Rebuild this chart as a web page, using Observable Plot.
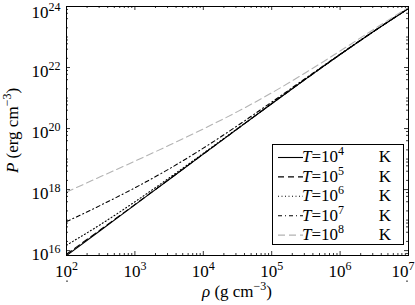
<!DOCTYPE html>
<html><head><meta charset="utf-8">
<script src="https://cdn.jsdelivr.net/npm/d3@7"></script>
<script src="https://cdn.jsdelivr.net/npm/@observablehq/plot@0.6"></script>
<style>
html,body{margin:0;padding:0;background:#fff;}
#chart svg{display:block;}
#chart svg text{font-family:'Liberation Serif','DejaVu Serif',serif !important;}
</style>
</head><body><div id="chart"></div>
<script>
// log10 of density rho (g cm^-3)
const logRho = [2, 2.5, 3, 3.5, 4, 4.5, 5, 5.5, 6, 6.5, 7];
// log10 of pressure P (erg cm^-3) for each temperature
const logP_T4 = [15.838, 16.668, 17.500, 18.332, 19.163, 19.991, 20.815, 21.629, 22.425, 23.196, 23.935];
const logP_T5 = [15.883, 16.690, 17.510, 18.336, 19.165, 19.992, 20.816, 21.629, 22.425, 23.196, 23.935];
const logP_T6 = [16.178, 16.860, 17.600, 18.381, 19.187, 20.002, 20.820, 21.632, 22.426, 23.197, 23.935];
const logP_T7 = [16.951, 17.488, 18.058, 18.677, 19.358, 20.094, 20.867, 21.655, 22.438, 23.203, 23.939];
const logP_T8 = [17.921, 18.425, 18.933, 19.451, 19.988, 20.555, 21.170, 21.837, 22.542, 23.263, 23.975];
const tempExps = ["4", "5", "6", "7", "8"];
const xTickExps = [2, 3, 4, 5, 6, 7];
const yTickExps = [16, 18, 20, 22, 24];

const W = 415, H = 305;
const mL = 66, mR = 7, mT = 6, mB = 50;
const fw = W - mL - mR, fh = H - mT - mB;
const FONT = "'Liberation Serif', 'DejaVu Serif', serif";
const FS = 17, SFS = 12, SUP = 7;

const seriesP = [logP_T4, logP_T5, logP_T6, logP_T7, logP_T8];
const styles = [
  {stroke: "#000", dash: null, w: 1.1},
  {stroke: "#000", dash: "6,4", w: 1.1},
  {stroke: "#000", dash: "1,2.5", w: 1.1},
  {stroke: "#000", dash: "4,3,1,3", w: 1.1},
  {stroke: "#b3b3b3", dash: "7,4", w: 1.1}
];

const rows = [];
seriesP.forEach((arr, i) => arr.forEach((lp, j) => rows.push({T: tempExps[i], rho: 10 ** logRho[j], P: 10 ** lp})));

const xMajor = xTickExps.map(e => 10 ** e);
const xMinor = [];
for (let e = 2; e < 7; e++) for (let k = 2; k <= 9; k++) xMinor.push(k * 10 ** e);
const yMajor = yTickExps.map(e => 10 ** e);
const yMinor = [];
for (let e = 15; e < 24; e++) {
  if (e % 2 === 1) yMinor.push(10 ** e);
  for (const k of [2, 4, 6, 8]) { const v = k * 10 ** e; if (v > 10 ** 15.84 && v < 1e24) yMinor.push(v); }
}

const marks = [];
tempExps.forEach((t, i) => {
  marks.push(Plot.line(rows.filter(r => r.T === t), {
    x: "rho", y: "P", stroke: styles[i].stroke, strokeWidth: styles[i].w,
    strokeDasharray: styles[i].dash, curve: "monotone-x", clip: true
  }));
});
// inward ticks on all four sides
const tk = {stroke: "#000", strokeWidth: 0.8};
marks.push(Plot.tickX(xMajor, {x: d => d, insetTop: fh - 4, ...tk}));
marks.push(Plot.tickX(xMajor, {x: d => d, insetBottom: fh - 4, ...tk}));
marks.push(Plot.tickX(xMinor, {x: d => d, insetTop: fh - 2, ...tk}));
marks.push(Plot.tickX(xMinor, {x: d => d, insetBottom: fh - 2, ...tk}));
marks.push(Plot.tickY(yMajor, {y: d => d, insetRight: fw - 4, ...tk}));
marks.push(Plot.tickY(yMajor, {y: d => d, insetLeft: fw - 4, ...tk}));
marks.push(Plot.tickY(yMinor, {y: d => d, insetRight: fw - 2, ...tk}));
marks.push(Plot.tickY(yMinor, {y: d => d, insetLeft: fw - 2, ...tk}));
marks.push(Plot.frame({stroke: "#000", strokeWidth: 1}));
marks.push(Plot.axisX({ticks: xMajor, tickSize: 0, tickPadding: 9.5, tickFormat: d => String(Math.round(Math.log10(d))), label: null, fill: "#000", fontVariant: "normal"}));
marks.push(Plot.axisY({ticks: yMajor, tickSize: 0, tickPadding: 6, dy: 3.8, tickFormat: d => String(Math.round(Math.log10(d))), label: null, fill: "#000", fontVariant: "normal"}));

const chart = Plot.plot({
  width: W, height: H,
  marginLeft: mL, marginRight: mR, marginTop: mT, marginBottom: mB,
  x: {type: "log", domain: [1e2, 1e7]},
  y: {type: "log", domain: [10 ** 15.84, 1e24]},
  style: {fontFamily: FONT, fontSize: FS + "px", background: "#fff", color: "#000", overflow: "visible"},
  marks
});
document.getElementById("chart").appendChild(chart);

const svg = d3.select(chart);
// superscript tick labels: 10^n
function supify(sel) {
  sel.each(function() {
    const exp = this.textContent;
    const t = d3.select(this);
    t.text(null).attr("font-family", FONT).attr("font-size", FS);
    t.append("tspan").text("10");
    t.append("tspan").attr("dy", -SUP).attr("font-size", SFS).text(exp);
  });
}
supify(svg.selectAll('g[aria-label="x-axis tick label"] text'));
supify(svg.selectAll('g[aria-label="y-axis tick label"] text'));
// keep the rightmost x label and the top y label inside the picture
const xls = svg.selectAll('g[aria-label="x-axis tick label"] text').nodes();
if (xls.length) d3.select(xls[xls.length - 1]).attr("text-anchor", "end").attr("dx", 6);
svg.selectAll('g[aria-label="y-axis tick label"] text').each(function() {
  if (this.textContent === "1024") {
    const dy0 = this.getAttribute("dy") || "0";
    d3.select(this).attr("dy", dy0).attr("transform", (this.getAttribute("transform") || "") + " translate(0,2.5)");
  }
});

// axis titles
const xl = svg.append("text").attr("x", mL + fw / 2).attr("y", 297)
  .attr("text-anchor", "middle").attr("font-family", FONT).attr("font-size", FS).attr("fill", "#000");
xl.append("tspan").attr("font-style", "italic").text("ρ");
xl.append("tspan").text(" (g cm");
xl.append("tspan").attr("dy", -SUP).attr("font-size", SFS).text("−3");
xl.append("tspan").attr("dy", SUP).text(")");

const yl = svg.append("text").attr("transform", `translate(18,${mT + fh / 2}) rotate(-90)`)
  .attr("text-anchor", "middle").attr("font-family", FONT).attr("font-size", FS).attr("fill", "#000");
yl.append("tspan").attr("font-style", "italic").text("P");
yl.append("tspan").text(" (erg cm");
yl.append("tspan").attr("dy", -SUP).attr("font-size", SFS).text("−3");
yl.append("tspan").attr("dy", SUP).text(")");

// legend
const lg = svg.append("g");
lg.append("rect").attr("x", 272.5).attr("y", 144.5).attr("width", 131).attr("height", 100)
  .attr("fill", "#fff").attr("stroke", "#000").attr("stroke-width", 1);
tempExps.forEach((t, i) => {
  const yy = 157.5 + i * 19.4;
  lg.append("line").attr("x1", 278).attr("x2", 303).attr("y1", yy).attr("y2", yy)
    .attr("stroke", styles[i].stroke).attr("stroke-width", styles[i].w)
    .attr("stroke-dasharray", styles[i].dash);
  const tx = lg.append("text").attr("x", 323).attr("y", yy + 4.8)
    .attr("font-family", FONT).attr("font-size", FS).attr("fill", "#000");
  tx.append("tspan").attr("font-style", "italic").text("T");
  tx.append("tspan").text("=10");
  tx.append("tspan").attr("dy", -SUP).attr("font-size", SFS).text(t);
  lg.append("text").attr("x", 385).attr("y", yy + 4.8)
    .attr("font-family", FONT).attr("font-size", FS).attr("fill", "#000").text("K");
});
</script>
</body></html>
